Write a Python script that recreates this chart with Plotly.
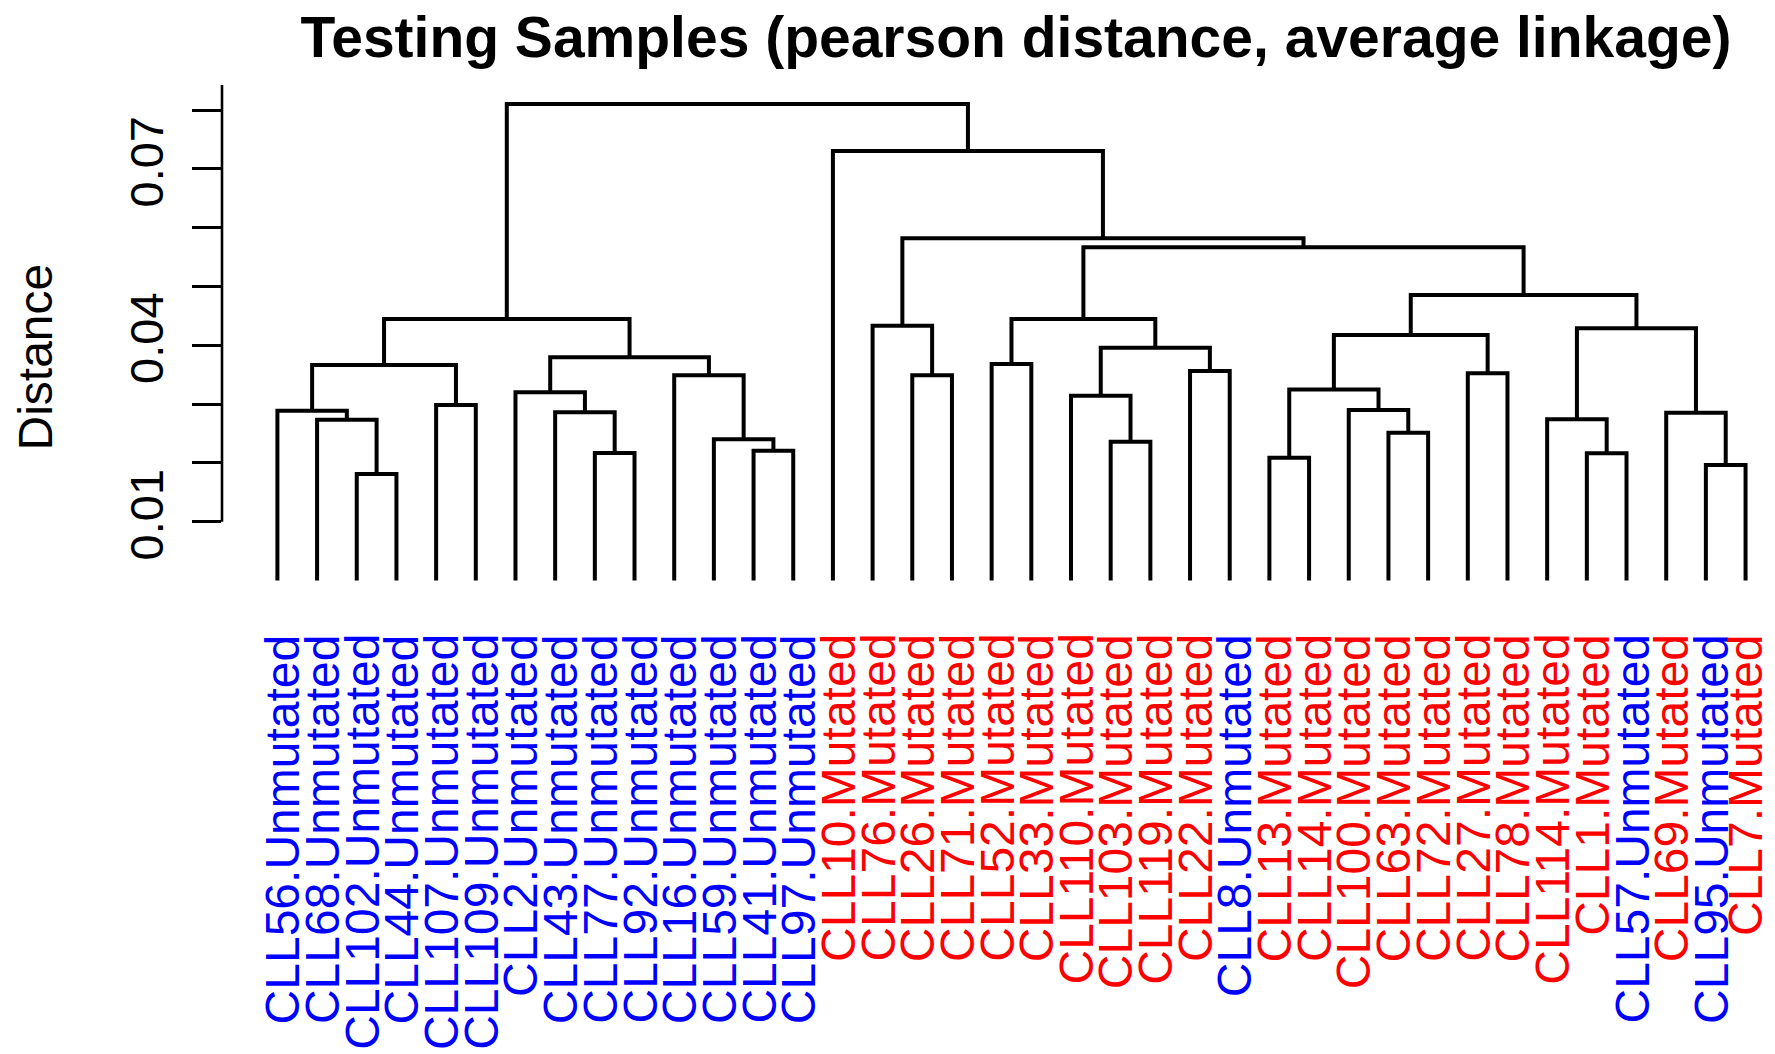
import plotly.graph_objects as go

# ---------------- data ----------------
labels = [
    "CLL56.Unmutated", "CLL68.Unmutated", "CLL102.Unmutated", "CLL44.Unmutated",
    "CLL107.Unmutated", "CLL109.Unmutated", "CLL2.Unmutated", "CLL43.Unmutated",
    "CLL77.Unmutated", "CLL92.Unmutated", "CLL16.Unmutated", "CLL59.Unmutated",
    "CLL41.Unmutated", "CLL97.Unmutated", "CLL10.Mutated", "CLL76.Mutated",
    "CLL26.Mutated", "CLL71.Mutated", "CLL52.Mutated", "CLL33.Mutated",
    "CLL110.Mutated", "CLL103.Mutated", "CLL119.Mutated", "CLL22.Mutated",
    "CLL8.Unmutated", "CLL13.Mutated", "CLL14.Mutated", "CLL100.Mutated",
    "CLL63.Mutated", "CLL72.Mutated", "CLL27.Mutated", "CLL78.Mutated",
    "CLL114.Mutated", "CLL1.Mutated", "CLL57.Unmutated", "CLL69.Mutated",
    "CLL95.Unmutated", "CLL7.Mutated",
]

# hclust-style merge table: negative = leaf (1-based, in plotted order),
# positive = earlier merge row (1-based)
merge_left = [-3, -2, -1, -5, 3, -9, -8, -7, -13, -12, -11, 8, 5,
              -17, -16, -19, -22, -21, -24, 18, 16, -26, -29, -28, 22,
              -31, 25, -34, -33, -37, -36, 29, 27, 21, 15, -15, 13]
merge_right = [-4, 1, 2, -6, 4, -10, 6, 7, -14, 9, 10, 11, 12,
               -18, 14, -20, -23, 17, -25, 19, 20, -27, -30, 23, 24,
               -32, 26, -35, 28, -38, 30, 31, 32, 33, 34, 35, 36]
merge_height = [0.01811, 0.02734, 0.02887, 0.02984, 0.03664, 0.02168, 0.0286,
                0.0320, 0.02207, 0.02401, 0.03489, 0.03795, 0.04447,
                0.03489, 0.04333, 0.03681, 0.0236, 0.03143, 0.03562, 0.03959,
                0.04447, 0.02088, 0.02513, 0.029, 0.03248, 0.03523, 0.04175,
                0.02163, 0.02741, 0.01964, 0.02853, 0.04288, 0.04855, 0.05666,
                0.05819, 0.07303, 0.08102]

y_tick_vals = [0.01, 0.02, 0.03, 0.04, 0.05, 0.06, 0.07, 0.08]
y_tick_text = ["0.01", "", "", "0.04", "", "", "0.07", ""]

group_colors = {"Unmutated": "#0000FF", "Mutated": "#FF0000"}

# ---------------- build dendrogram segments ----------------
n = len(labels)
leaf_pos = list(range(1, n + 1))
node_x, node_h = [], []
xs, ys = [], []


def child(c):
    if c < 0:
        return leaf_pos[-c - 1], 0.0
    return node_x[c - 1], node_h[c - 1]


for l, r, h in zip(merge_left, merge_right, merge_height):
    xl, hl = child(l)
    xr, hr = child(r)
    xs += [xl, xl, xr, xr, None]
    ys += [hl, h, h, hr, None]
    node_x.append((xl + xr) / 2.0)
    node_h.append(h)

FONT = "Liberation Sans, Arial, Helvetica, sans-serif"

fig = go.Figure()
fig.add_trace(go.Scatter(
    x=xs, y=ys, mode="lines",
    line=dict(color="black", width=4),
    hoverinfo="skip", showlegend=False,
))

W, H = 1775, 1054
ML, MR, MT, MB = 222, 0, 85, 456
PH = H - MT - MB
PW = W - ML - MR
px_per_unit = (521.7 - 110.0) / 0.07
y_top = 0.08 + (110.0 - MT) / px_per_unit
y_bot = y_top - PH / px_per_unit

leaf_step = 39.68
x0 = 1 - (277.4 - ML) / leaf_step
x1 = x0 + PW / leaf_step

label_top_px = 633.0  # pixel row where leaf labels end (their top)
label_half_box = 29.0  # half width of a rotated label's box, px

annotations = [dict(
    text="Distance", textangle=-90, showarrow=False,
    xref="paper", yref="paper",
    x=(35 - ML) / PW, y=(H - MB - 357.5) / PH,
    xanchor="center", yanchor="middle",
    font=dict(size=48, family=FONT, color="black"),
)]
for pos, lab in zip(leaf_pos, labels):
    px = ML + (pos - x0) / (x1 - x0) * PW
    shift = min(5.0, (W - 1) - (px + label_half_box))
    annotations.append(dict(
        text=lab, textangle=-90, showarrow=False,
        xref="x", yref="paper", x=pos, y=-(label_top_px - (H - MB)) / PH,
        xanchor="center", yanchor="top", xshift=shift, borderpad=0,
        font=dict(size=48, family=FONT, color=group_colors[lab.split(".")[1]]),
    ))

fig.update_layout(
    width=W, height=H,
    margin=dict(l=ML, r=MR, t=MT, b=MB, pad=0),
    paper_bgcolor="white", plot_bgcolor="white",
    template="none",
    font=dict(family=FONT, color="black"),
    title=dict(
        text="<b>Testing Samples (pearson distance, average linkage)</b>",
        font=dict(size=57, family=FONT, color="black"),
        x=1016 / W, xanchor="center", xref="container",
        y=1 - 37 / H, yanchor="middle", yref="container",
    ),
    xaxis=dict(
        range=[x0, x1], showgrid=False, zeroline=False, showline=False,
        showticklabels=False, ticks="", automargin=False,
    ),
    yaxis=dict(
        range=[y_bot, y_top], showgrid=False, zeroline=False, showline=False,
        tickmode="array", tickvals=y_tick_vals, ticktext=y_tick_text,
        ticks="outside", ticklen=29, tickwidth=2.6, tickcolor="black",
        tickangle=-90, tickfont=dict(size=47, family=FONT),
        ticklabelstandoff=10, automargin=False,
    ),
    shapes=[dict(
        type="line", xref="paper", yref="y",
        x0=0, x1=0, y0=0.01, y1=y_top,
        line=dict(color="black", width=2.6),
    )],
    annotations=annotations,
)

fig.write_html(
    "out.html",
    config={"displayModeBar": False},
    post_script="document.body.style.margin='0';document.body.style.overflow='hidden';",
)
